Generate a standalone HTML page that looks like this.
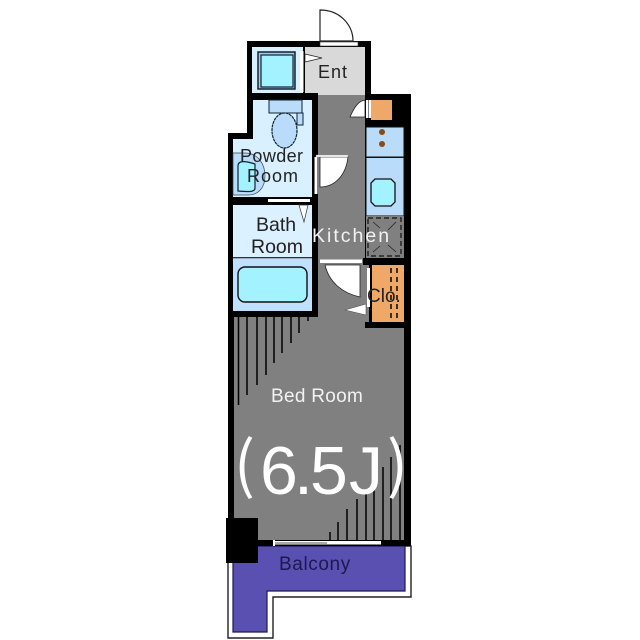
<!DOCTYPE html>
<html><head><meta charset="utf-8"><style>
html,body{margin:0;padding:0;background:#fff}
svg{display:block;filter:blur(.35px)}
text{font-family:"Liberation Sans",sans-serif}
</style></head><body>
<svg width="640" height="640" viewBox="0 0 640 640" xmlns="http://www.w3.org/2000/svg">
<!-- balcony -->
<path d="M228 546H411V597H273V638H228Z" fill="#fff" stroke="#222" stroke-width="1.4"/>
<path d="M233 546H405V591H267V632H233Z" fill="#5a50b2" stroke="#1c1850" stroke-width="1.2"/>
<!-- outer black -->
<path d="M247 41H371V94H411V546H228V133H247Z" fill="#000"/>
<!-- floor -->
<rect x="234" y="317" width="170" height="223" fill="#808080"/>
<rect x="318" y="95" width="47" height="225" fill="#808080"/>
<rect x="365" y="265" width="4" height="57" fill="#808080"/>
<rect x="365" y="328" width="39" height="10" fill="#808080"/>
<!-- washer room and entry -->
<rect x="252" y="47" width="51" height="46" fill="#d8f0ff"/>
<rect x="305" y="47" width="60" height="48" fill="#d9d9d9"/>
<rect x="297" y="93" width="21" height="2" fill="#000"/>
<rect x="258" y="52" width="37" height="37" fill="#a8c8e0" stroke="#123" stroke-width="1.5"/>
<rect x="261" y="55" width="32" height="32" fill="#a2f2ff" stroke="#123" stroke-width="1.2"/>
<rect x="300" y="51" width="3.500" height="41" fill="#fff"/>
<path d="M305 54V62L322 58Z" fill="#fff" stroke="#222" stroke-width=".7"/>
<!-- entry door -->
<path d="M320 10C340 10 353 25 353 41H320Z" fill="#fff" stroke="#222" stroke-width="1.2"/>
<rect x="320" y="42" width="38" height="4" fill="#fff" stroke="#333" stroke-width=".6"/>
<!-- powder room -->
<path d="M253 100H312V197H233V139H253Z" fill="#d8f0ff"/>
<rect x="269" y="100" width="33" height="13" fill="#b8dcfa" stroke="#123" stroke-width="1"/>
<rect x="297" y="113" width="6" height="12" fill="#b8dcfa" stroke="#123" stroke-width="1"/>
<ellipse cx="284.500" cy="130.500" rx="12.500" ry="17.500" fill="#b8dcfa" stroke="#123" stroke-width="1.2" stroke-dasharray="3 .6"/>
<path d="M233 153H245C257 153 265 163 265 176C265 188 258 195 248 195H233Z" fill="#b8dcfa" stroke="#345" stroke-width=".7"/>
<path d="M238 166C238 160 246 161 255 164V188C255 192 250 192 238 191Z" fill="#a2f2ff" stroke="#123" stroke-width="1.2"/>
<!-- bath room -->
<rect x="233" y="205" width="79" height="52" fill="#dcf1ff"/>
<rect x="233" y="258" width="79" height="53" fill="#c0e0ff"/>
<rect x="233" y="257" width="79" height="1.300" fill="#333"/>
<rect x="238" y="267" width="69" height="35" rx="7" fill="#a2f2ff" stroke="#111" stroke-width="1.4"/>
<rect x="268" y="199" width="42" height="3" fill="#fff"/>
<path d="M299 205H308L304 222Z" fill="#fff" stroke="#333" stroke-width=".7"/>
<!-- powder door -->
<path d="M320 157H348C346 175 335 187 320 187Z" fill="#fff" stroke="#222" stroke-width=".8"/>
<rect x="316" y="155" width="32" height="2" fill="#fff" stroke="#888" stroke-width=".4"/>
<rect x="314.500" y="157" width="3" height="37" fill="#fff"/>
<!-- kitchen right side -->
<rect x="365" y="94" width="46" height="33" fill="#000"/>
<rect x="371" y="100" width="21" height="20" fill="#f0a868"/>
<rect x="366" y="100" width="2.500" height="18" fill="#fff"/>
<rect x="369" y="100" width="2" height="18" fill="#fff"/>
<path d="M350 117C354 108 358 101 365 100V117Z" fill="#fff" stroke="#222" stroke-width=".8"/>
<rect x="366" y="127" width="38" height="89" fill="#b8dcfa" stroke="#111" stroke-width="1"/>
<rect x="366" y="156.500" width="38" height="1.500" fill="#111"/>
<circle cx="382" cy="132" r="3" fill="#8a4a10"/>
<circle cx="382" cy="144" r="3" fill="#8a4a10"/>
<path d="M375 179H391L395 183V202L391 206H375L371 202V183Z" fill="#a2f2ff" stroke="#111" stroke-width="1.3"/>
<rect x="366" y="216" width="38" height="42" fill="#808080"/>
<rect x="368" y="218" width="33" height="38" fill="none" stroke="#111" stroke-width="1.2" stroke-dasharray="5 3"/>
<path d="M373 222L380 228M396 222L388 230M373 252L380 246M396 252L388 245" stroke="#222" stroke-width=".8"/>
<!-- closet -->
<rect x="363" y="258" width="48" height="7" fill="#000"/>
<rect x="369" y="258" width="3" height="64" fill="#000"/>
<rect x="365" y="322" width="46" height="6" fill="#000"/>
<rect x="372" y="265" width="32" height="57" fill="#f0a868"/>
<path d="M391 268V322M397 268V322" stroke="#111" stroke-width="1.600" stroke-dasharray="5 4"/>
<rect x="367" y="268" width="3" height="39" fill="#fff"/>
<path d="M366 304V315L345 310Z" fill="#fff" stroke="#555" stroke-width=".6"/>
<!-- closet door -->
<path d="M325 265H360V297C342 293 329 282 325 265Z" fill="#fff" stroke="#222" stroke-width=".8"/>
<rect x="320" y="259.500" width="42" height="3.500" fill="#fff"/>
<!-- hatch -->
<g stroke="#000" stroke-width="1.500">
<path d="M238.500 317V405M247 317V395M257 317V385M266 317V375M274 317V363M282 317V353M291 317V343M299 317V333M308 317V321"/>
<path d="M330 540V532M338 540V522M347 540V509M357 540V499M366 540V492M374 540V483M383 540V467M391 540V457M400 540V445"/>
</g>
<!-- column and bottom window -->
<rect x="226" y="518" width="32" height="45" fill="#000"/>
<rect x="274" y="541" width="107" height="3.500" fill="#fff"/>
<rect x="274" y="542.500" width="53" height="1" fill="#555"/>
<rect x="273" y="540" width="2" height="6" fill="#fff"/>
<!-- labels -->
<text x="318" y="78" font-size="18" letter-spacing="1" fill="#222">Ent</text>
<text x="240" y="162" font-size="18" letter-spacing=".4" fill="#222">Powder</text>
<text x="247" y="182" font-size="18" letter-spacing="1" fill="#222">Room</text>
<text x="256" y="231" font-size="19.500" fill="#222">Bath</text>
<text x="251" y="253" font-size="19.500" fill="#222">Room</text>
<text x="312" y="242" font-size="19.500" letter-spacing="2" fill="#f2f2f2">Kitchen</text>
<text x="367" y="302" font-size="19" fill="#222">Clo.</text>
<text x="271" y="402" font-size="19" letter-spacing=".3" fill="#f2f2f2">Bed Room</text>
<text x="279" y="570" font-size="19" letter-spacing=".6" fill="#1c1850">Balcony</text>
<text x="260 294 310 349" y="494" font-size="68" fill="#fff">6.5J</text>
<text x="234" y="487" font-size="62" fill="#fff" style="font-family:'Noto Sans CJK JP',sans-serif">(</text>
<text x="387" y="487" font-size="62" fill="#fff" style="font-family:'Noto Sans CJK JP',sans-serif">)</text>
</svg>
</body></html>
